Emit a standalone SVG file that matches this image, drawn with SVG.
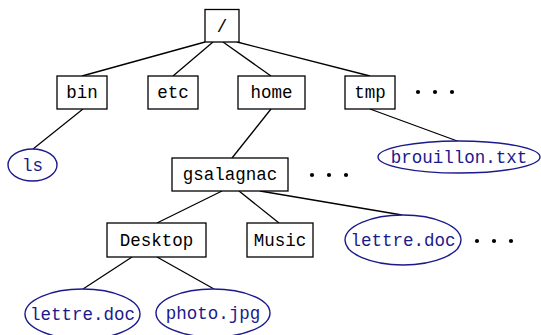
<svg xmlns="http://www.w3.org/2000/svg" width="541" height="335" viewBox="0 0 541 335">
<style>
.box{fill:#fff;stroke:#000;stroke-width:1.3}
.file{fill:#fff;stroke:#1a1a8c;stroke-width:1.4}
.t{font-family:"Liberation Mono","DejaVu Sans Mono",monospace;font-size:17.5px;text-anchor:middle;fill:#000}
.ft{fill:#1a1a8c}
.e{stroke:#000;stroke-width:1.3;fill:none}
.dot{fill:#000}
</style>
<rect width="541" height="335" fill="#fff"/>
<g id="connectors">
<line class="e" x1="205" y1="42" x2="82" y2="76"/>
<line class="e" x1="213" y1="42" x2="173" y2="76"/>
<line class="e" x1="223" y1="42" x2="271" y2="76"/>
<line class="e" x1="237" y1="42" x2="370" y2="76"/>
<line class="e" x1="83" y1="109" x2="33" y2="149"/>
<line class="e" x1="271" y1="109" x2="232" y2="158"/>
<line class="e" x1="370" y1="109" x2="460" y2="142"/>
<line class="e" x1="222" y1="191" x2="157" y2="223"/>
<line class="e" x1="239" y1="191" x2="279" y2="223"/>
<line class="e" x1="260" y1="191" x2="402" y2="215"/>
<line class="e" x1="132" y1="257" x2="83" y2="289"/>
<line class="e" x1="157" y1="257" x2="214" y2="289"/>
</g>
<g id="root"><rect class="box" x="205" y="9.5" width="34" height="32.5"/><text class="t" x="222" y="31.5">/</text></g>
<g id="bin"><rect class="box" x="57" y="76" width="50" height="33"/><text class="t" x="82" y="98">bin</text></g>
<g id="etc"><rect class="box" x="148" y="76" width="50" height="33"/><text class="t" x="173" y="98">etc</text></g>
<g id="home"><rect class="box" x="238" y="76" width="67" height="33"/><text class="t" x="271.5" y="98">home</text></g>
<g id="tmp"><rect class="box" x="345" y="76" width="50" height="33"/><text class="t" x="370" y="98">tmp</text></g>
<g id="dots1"><circle class="dot" cx="418" cy="92" r="2.1"/><circle class="dot" cx="435" cy="92" r="2.1"/><circle class="dot" cx="452" cy="92" r="2.1"/></g>
<g id="ls"><ellipse class="file" cx="32.5" cy="165" rx="24.5" ry="16"/><text class="t ft" x="32.5" y="170.5">ls</text></g>
<g id="brouillon"><ellipse class="file" cx="459" cy="157" rx="81" ry="16"/><text class="t ft" x="459" y="162.5">brouillon.txt</text></g>
<g id="gsalagnac"><rect class="box" x="172" y="158" width="116" height="33"/><text class="t" x="230" y="180">gsalagnac</text></g>
<g id="dots2"><circle class="dot" cx="312" cy="175" r="2.1"/><circle class="dot" cx="329" cy="175" r="2.1"/><circle class="dot" cx="346" cy="175" r="2.1"/></g>
<g id="desktop"><rect class="box" x="107" y="223" width="99" height="34"/><text class="t" x="156.5" y="245.5">Desktop</text></g>
<g id="music"><rect class="box" x="247" y="223" width="66" height="34"/><text class="t" x="280" y="245.5">Music</text></g>
<g id="lettre1"><ellipse class="file" cx="403" cy="240" rx="58" ry="25"/><text class="t ft" x="403" y="245.5">lettre.doc</text></g>
<g id="dots3"><circle class="dot" cx="477" cy="241" r="2.1"/><circle class="dot" cx="494" cy="241" r="2.1"/><circle class="dot" cx="511" cy="241" r="2.1"/></g>
<g id="lettre2"><ellipse class="file" cx="82.5" cy="314" rx="57.5" ry="25"/><text class="t ft" x="82.5" y="319.5">lettre.doc</text></g>
<g id="photo"><ellipse class="file" cx="213" cy="313" rx="57" ry="24"/><text class="t ft" x="213" y="318.5">photo.jpg</text></g>
</svg>
